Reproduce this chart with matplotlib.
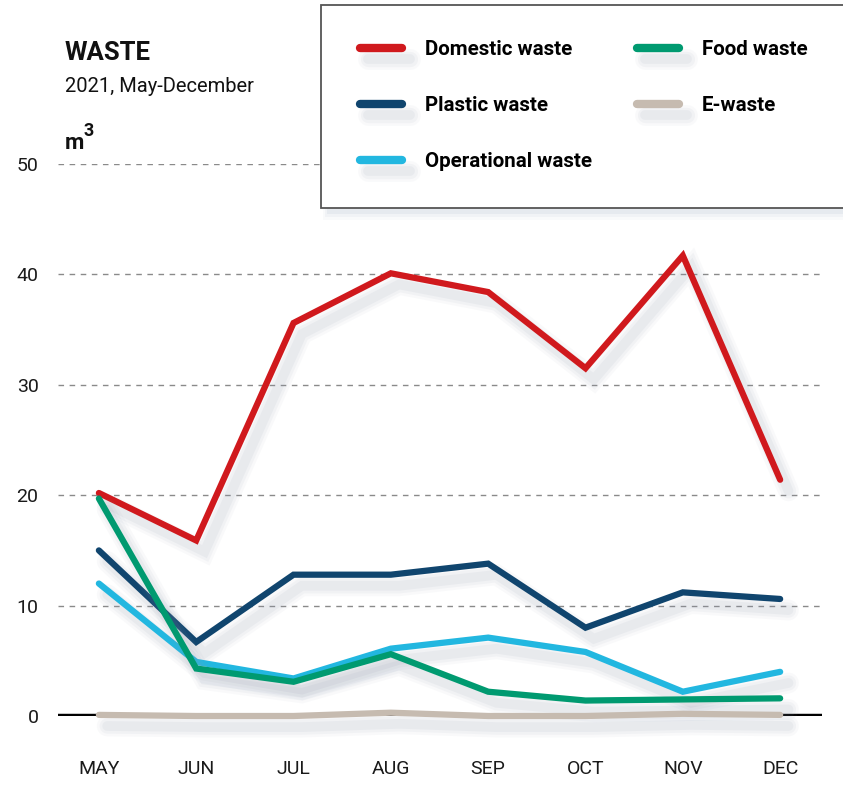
import matplotlib.pyplot as plt
import matplotlib.patheffects as pe
from matplotlib.patches import Rectangle

plt.rcParams['font.family'] = ['Roboto', 'DejaVu Sans']

months = ['MAY', 'JUN', 'JUL', 'AUG', 'SEP', 'OCT', 'NOV', 'DEC']
domestic = [20.2, 15.9, 35.6, 40.1, 38.4, 31.5, 41.7, 21.4]
plastic = [15.0, 6.7, 12.8, 12.8, 13.8, 8.0, 11.2, 10.6]
operational = [12.0, 4.9, 3.4, 6.1, 7.1, 5.8, 2.2, 4.0]
food = [19.7, 4.3, 3.1, 5.6, 2.2, 1.4, 1.5, 1.6]
ewaste = [0.1, 0.0, 0.0, 0.3, 0.0, 0.0, 0.2, 0.1]

series = [
    ('Domestic waste', domestic, '#d0191d'),
    ('Plastic waste', plastic, '#10456e'),
    ('Operational waste', operational, '#22b7e0'),
    ('Food waste', food, '#009a70'),
    ('E-waste', ewaste, '#c6bbb0'),
]

W, H = 843, 788
fig = plt.figure(figsize=(W / 100, H / 100), dpi=100)
ax = fig.add_axes([58 / W, 1 - 716 / H, (822 - 58) / W, (716 - 164) / H])

# soft blurred shadow under each line
shadow = [
    pe.Stroke(offset=(6, -8), linewidth=15, foreground='#8e9ab0', alpha=0.05),
    pe.Stroke(offset=(6, -8), linewidth=11, foreground='#8e9ab0', alpha=0.07),
    pe.Stroke(offset=(6, -8), linewidth=7, foreground='#8e9ab0', alpha=0.09),
    pe.Normal(),
]

x = list(range(len(months)))
for name, vals, col in series:
    ax.plot(x, vals, color=col, lw=4.5, label=name, solid_capstyle='round',
            solid_joinstyle='miter', clip_on=False, zorder=3, path_effects=shadow)

ax.axhline(0, color='black', lw=3.2, zorder=2)
for v in [10, 20, 30, 40, 50]:
    ax.axhline(v, color='#8a8a8a', lw=1, ls=(0, (4, 4)), zorder=1)

ax.set_xlim(-0.42, 7.43)
ax.set_ylim(0, 50)
ax.set_xticks(x)
ax.set_xticklabels(months)
ax.set_yticks([0, 10, 20, 30, 40, 50])
ax.tick_params(axis='x', length=0, pad=32, labelsize=14, labelcolor='#1a1a1a')
ax.tick_params(axis='y', length=0, pad=14, labelsize=14, labelcolor='#1a1a1a')
for s in ax.spines.values():
    s.set_visible(False)

# titles
fig.text(65 / W, 1 - 53 / H, 'WASTE', fontsize=18.5, fontweight='bold', va='center', color='#111111')
fig.text(65 / W, 1 - 87 / H, '2021, May-December', fontsize=14.5, va='center', color='#111111')
fig.text(65 / W, 1 - 143 / H, 'm', fontsize=16, fontweight='bold', va='center', color='#111111')
fig.text(84 / W, 1 - 131 / H, '3', fontsize=13, fontweight='bold', va='center', color='#111111')

# legend box with shadow
for i, a in enumerate([0.10, 0.15, 0.25]):
    fig.patches.append(Rectangle(((323 + 2 * i) / W, 1 - (220 - 3 * i) / H), 1, (203 - 2 * i) / H,
                                 transform=fig.transFigure, facecolor='#c9d1dd', alpha=a,
                                 edgecolor='none', zorder=4))
fig.patches.append(Rectangle((321 / W, 1 - 208 / H), 1, 203 / H, transform=fig.transFigure,
                             facecolor='white', edgecolor='#555555', lw=1.3, zorder=5))

leg = fig.legend(loc='upper left', bbox_to_anchor=(360 / W, 1 - 40 / H), ncol=2,
                 frameon=False, borderpad=0, borderaxespad=0, handlelength=2.05,
                 handletextpad=1.1, columnspacing=2.2, labelspacing=1.8,
                 prop={'weight': 'bold', 'size': 14.8})
leg.set_zorder(6)
for h in leg.legend_handles:
    h.set_linewidth(6)

fig.savefig('out.png', dpi=100)
